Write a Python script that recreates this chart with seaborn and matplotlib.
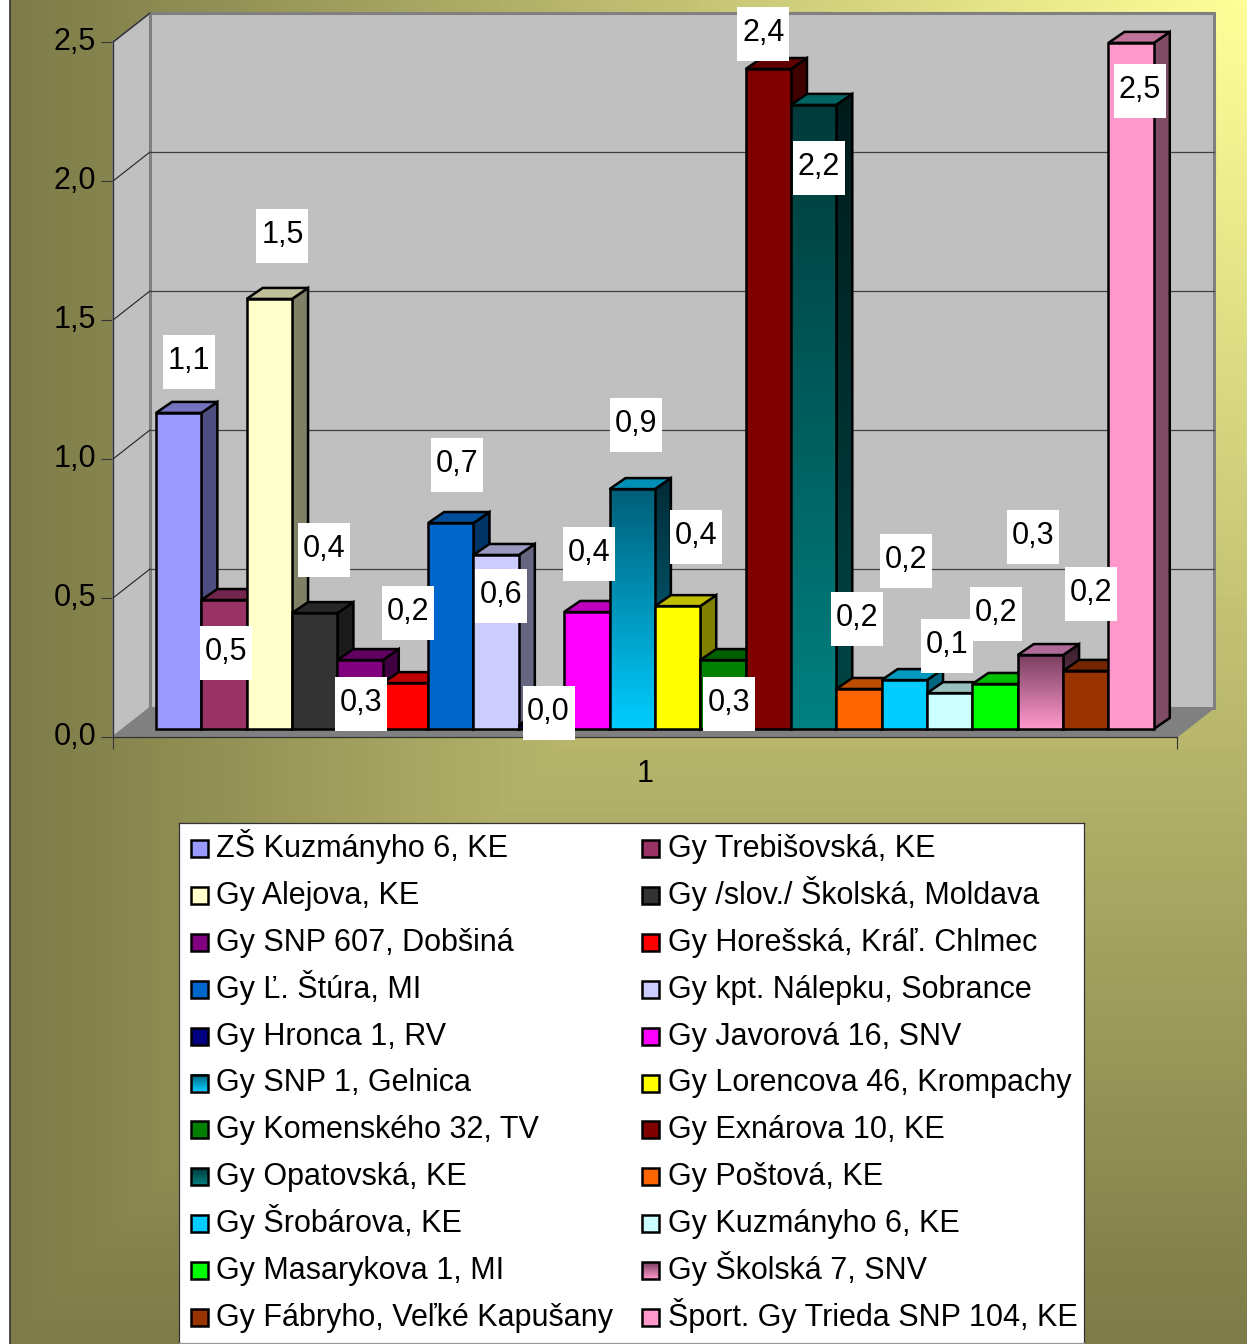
import numpy as np
import pandas as pd
import matplotlib
matplotlib.use("Agg")
import matplotlib.pyplot as plt
import seaborn as sns
from matplotlib.colors import LinearSegmentedColormap, to_rgb
from matplotlib.patches import Polygon, Rectangle
from matplotlib.ticker import FuncFormatter

schools = [
    "ZŠ Kuzmányho 6, KE", "Gy Trebišovská, KE", "Gy Alejova, KE", "Gy /slov./ Školská, Moldava",
    "Gy SNP 607, Dobšiná", "Gy Horešská, Kráľ. Chlmec", "Gy Ľ. Štúra, MI", "Gy kpt. Nálepku, Sobrance",
    "Gy Hronca 1, RV", "Gy Javorová 16, SNV", "Gy SNP 1, Gelnica", "Gy Lorencova 46, Krompachy",
    "Gy Komenského 32, TV", "Gy Exnárova 10, KE", "Gy Opatovská, KE", "Gy Poštová, KE",
    "Gy Šrobárova, KE", "Gy Kuzmányho 6, KE", "Gy Masarykova 1, MI", "Gy Školská 7, SNV",
    "Gy Fábryho, Veľké Kapušany", "Šport. Gy Trieda SNP 104, KE",
]
values = [1.137, 0.464, 1.547, 0.417, 0.248, 0.165, 0.741, 0.626, 0.014, 0.421, 0.863,
          0.442, 0.248, 2.374, 2.245, 0.144, 0.176, 0.129, 0.162, 0.266, 0.209, 2.468]
value_labels = ["1,1", "0,5", "1,5", "0,4", "0,3", "0,2", "0,7", "0,6", "0,0", "0,4", "0,9",
                "0,4", "0,3", "2,4", "2,2", "0,2", "0,2", "0,1", "0,2", "0,3", "0,2", "2,5"]
colors = ["#9999FF", "#993366", "#FFFFCC", "#333333", "#800080", "#FF0000", "#0066CC", "#CCCCFF",
          "#000080", "#FF00FF", "#00CCFF", "#FFFF00", "#008000", "#800000", "#008080", "#FF6600",
          "#00CCFF", "#CCFFFF", "#00FF00", "#FF99CC", "#993300", "#FF99CC"]
# the bars with a fill effect: index -> colour at the top of the bar, colour of the lid
gradient_tops = {10: "#005F78", 14: "#003A3A", 19: "#7A3F60"}
gradient_lids = {10: "#0090B5", 14: "#006464", 19: "#B06A96"}

# label offsets from the top centre of each bar, in pixels
label_dx = [10, 2, 13, 9, 1, 3, 6, 5, 7, 2, 4, 18, 6, -5, 5, -2, 2, -3, 1, -7.5, 5, 9]
label_dy = [55, -48, 67, 68, -39, 75, 63, -37, 17, 62, 69, 74, -39, 40, -59, 74, 124, 52, 74, 123, 81, -44]

W, H = 1247, 1344
PX_X = 1064 / 23.46        # pixels per category
PX_Y = 278.0               # pixels per unit
BASE = 8 / PX_Y
BAR_DX, BAR_DY = 16 / PX_X, 11 / PX_Y
WALL_DX, WALL_DY = 37 / PX_X, 29 / PX_Y
YMAX = 2.5
FS = 22

sns.set_theme(style="white")
plt.rcParams["font.family"] = ["Liberation Sans", "DejaVu Sans"]
plt.rcParams["text.color"] = "black"


def shade(color, k):
    return tuple(c * k for c in to_rgb(color))


def gradient_image(top, bottom, n=64):
    a, b = np.array(to_rgb(top)), np.array(to_rgb(bottom))
    return np.linspace(a, b, n)[:, None, :]


fig = plt.figure(figsize=(W / 100, H / 100), dpi=100, facecolor="white")

# background fill, brightest in the top right corner
bg = fig.add_axes([10 / W, 0, 1 - 10 / W, 1], zorder=0)
xx, yy = np.meshgrid(np.linspace(0, 1, 400), np.linspace(0, 1, 400))
cmap = LinearSegmentedColormap.from_list("olive", ["#FFFF99", "#7D7B48"])
bg.imshow(np.maximum(1 - xx, yy), cmap=cmap, vmin=0, vmax=1, aspect="auto", extent=(0, 1, 1, 0))
bg.set_xticks([])
bg.set_yticks([])
for name, sp in bg.spines.items():
    sp.set_visible(name == "left")
    sp.set_color("#333333")
    sp.set_linewidth(1.2)

ax = fig.add_axes([113 / W, (H - 737) / H, 1064 / W, 695 / H], zorder=1)
ax.patch.set_alpha(0)

df = pd.DataFrame({"school": schools, "value": values})
sns.barplot(data=df, x="school", y="value", hue="school", hue_order=schools, order=schools,
            palette=colors, dodge=False, width=1, gap=0, saturation=1, legend=False,
            edgecolor="black", linewidth=1.8, ax=ax)
bars = sorted(ax.patches, key=lambda p: p.get_x())

XL, XR = -0.5 - 43 / PX_X, -0.5 - 43 / PX_X + 23.46
ax.set_xlim(XL, XR)
ax.set_ylim(0, YMAX)

# walls and floor behind the bars
wall = "#C0C0C0"
ax.add_patch(Polygon([(XL, 0), (XL, YMAX), (XL + WALL_DX, YMAX + WALL_DY), (XL + WALL_DX, WALL_DY)],
                     fc=wall, ec="#808080", lw=1.5, zorder=1, clip_on=False))
ax.add_patch(Polygon([(XL + WALL_DX, WALL_DY), (XR + WALL_DX, WALL_DY), (XR + WALL_DX, YMAX + WALL_DY), (XL + WALL_DX, YMAX + WALL_DY)],
                     fc=wall, ec="#808080", lw=2.2, zorder=1, clip_on=False))
ax.add_patch(Polygon([(XL, 0), (XR, 0), (XR + WALL_DX, WALL_DY), (XL + WALL_DX, WALL_DY)],
                     fc="#808080", ec="#808080", lw=0.8, zorder=2, clip_on=False))
yticks = [0, 0.5, 1.0, 1.5, 2.0, 2.5]
for t in yticks[1:]:
    if t < YMAX:
        ax.plot([XL + WALL_DX, XR + WALL_DX], [t + WALL_DY] * 2, color="#404040", lw=0.9, zorder=2, clip_on=False)
    ax.plot([XL, XL + WALL_DX], [t, t + WALL_DY], color="#222222", lw=0.8, zorder=2, clip_on=False)

# box faces, drawn left to right so later bars hide earlier sides
for i, p in enumerate(bars):
    x0, x1 = p.get_x(), p.get_x() + p.get_width()
    top = BASE + values[i]
    p.set_y(BASE)
    p.set_height(values[i])
    p.set_zorder(10 + i + 0.6)
    p.set_joinstyle("miter")
    p.set_clip_on(False)
    col = colors[i]
    side = Polygon([(x1, BASE), (x1, top), (x1 + BAR_DX, top + BAR_DY), (x1 + BAR_DX, BASE + BAR_DY)],
                   fc=shade(col, 0.5), ec="black", lw=1.8, zorder=10 + i + 0.2, clip_on=False)
    lid = Polygon([(x0, top), (x1, top), (x1 + BAR_DX, top + BAR_DY), (x0 + BAR_DX, top + BAR_DY)],
                  fc=shade(col, 0.75), ec="black", lw=1.8, zorder=10 + i + 0.3, clip_on=False)
    ax.add_patch(side)
    ax.add_patch(lid)
    if i in gradient_tops:
        p.set_facecolor("none")
        lid.set_facecolor(gradient_lids[i])
        side.set_facecolor("none")
        ax.imshow(gradient_image(gradient_tops[i], col), extent=(x0, x1, BASE, top), aspect="auto",
                  zorder=10 + i + 0.5, clip_on=False)
        side_img = ax.imshow(gradient_image(shade(gradient_tops[i], 0.45), shade(col, 0.55)),
                             extent=(x1, x1 + BAR_DX, BASE, top + BAR_DY), aspect="auto", zorder=10 + i + 0.1)
        side_img.set_clip_path(side)

    # white value box sits a little below the centre of its text
    cx = i + label_dx[i] / PX_X
    cy = top + label_dy[i] / PX_Y
    bw, bh = 52 / PX_X, 54 / PX_Y
    ax.add_patch(Rectangle((cx - bw / 2, cy - 4.5 / PX_Y - bh / 2), bw, bh, fc="white", ec="none", zorder=100, clip_on=False))
    ax.text(cx, cy, value_labels[i], ha="center", va="center_baseline", fontsize=FS, color="black", zorder=101, clip_on=False)

ax.set_xlim(XL, XR)
ax.set_ylim(0, YMAX)

# axes
for name in ("top", "right"):
    ax.spines[name].set_visible(False)
for name in ("left", "bottom"):
    ax.spines[name].set_color("#333333")
    ax.spines[name].set_linewidth(0.9)
    ax.spines[name].set_zorder(5)
ax.set_yticks(yticks)
ax.yaxis.set_major_formatter(FuncFormatter(lambda v, _: f"{v:.1f}".replace(".", ",")))
ax.set_xticks([XL, XR])
ax.set_xticklabels(["", ""])
ax.tick_params(axis="both", which="major", length=8.6, width=0.8, color="#333333", labelcolor="black",
               left=True, bottom=True, labelsize=FS, pad=3.6)
for lab in ax.get_yticklabels():
    lab.set_verticalalignment("center")
ax.set_xlabel("1", fontsize=FS, labelpad=3.5, color="black")
ax.set_ylabel("")

# legend panel, in pixels of the panel itself, row by row in two columns
lg = fig.add_axes([179 / W, 1 / H, 905 / W, 520 / H], zorder=2, facecolor="white")
lg.set_xlim(0, 905)
lg.set_ylim(520, 0)
lg.set_xticks([])
lg.set_yticks([])
for name, sp in lg.spines.items():
    sp.set_color("#333333" if name != "bottom" else "#999999")
    sp.set_linewidth(0.9)
for i, name in enumerate(schools):
    col_x = 12 + 451 * (i % 2)
    row_y = 17 + 46.9 * (i // 2)
    if i in gradient_tops:
        lg.imshow(gradient_image(gradient_tops[i], colors[i]), extent=(col_x, col_x + 17, row_y + 17, row_y), aspect="auto", zorder=1)
        lg.add_patch(Rectangle((col_x, row_y), 17, 17, fc="none", ec="black", lw=1.8, zorder=2))
    else:
        lg.add_patch(Rectangle((col_x, row_y), 17, 17, fc=colors[i], ec="black", lw=1.8, zorder=2))
    lg.text(col_x + 25 + (i % 2), row_y + 17, name, fontsize=FS, color="black", ha="left", va="baseline")
lg.set_xlim(0, 905)
lg.set_ylim(520, 0)

fig.savefig("out.png", dpi=100)
